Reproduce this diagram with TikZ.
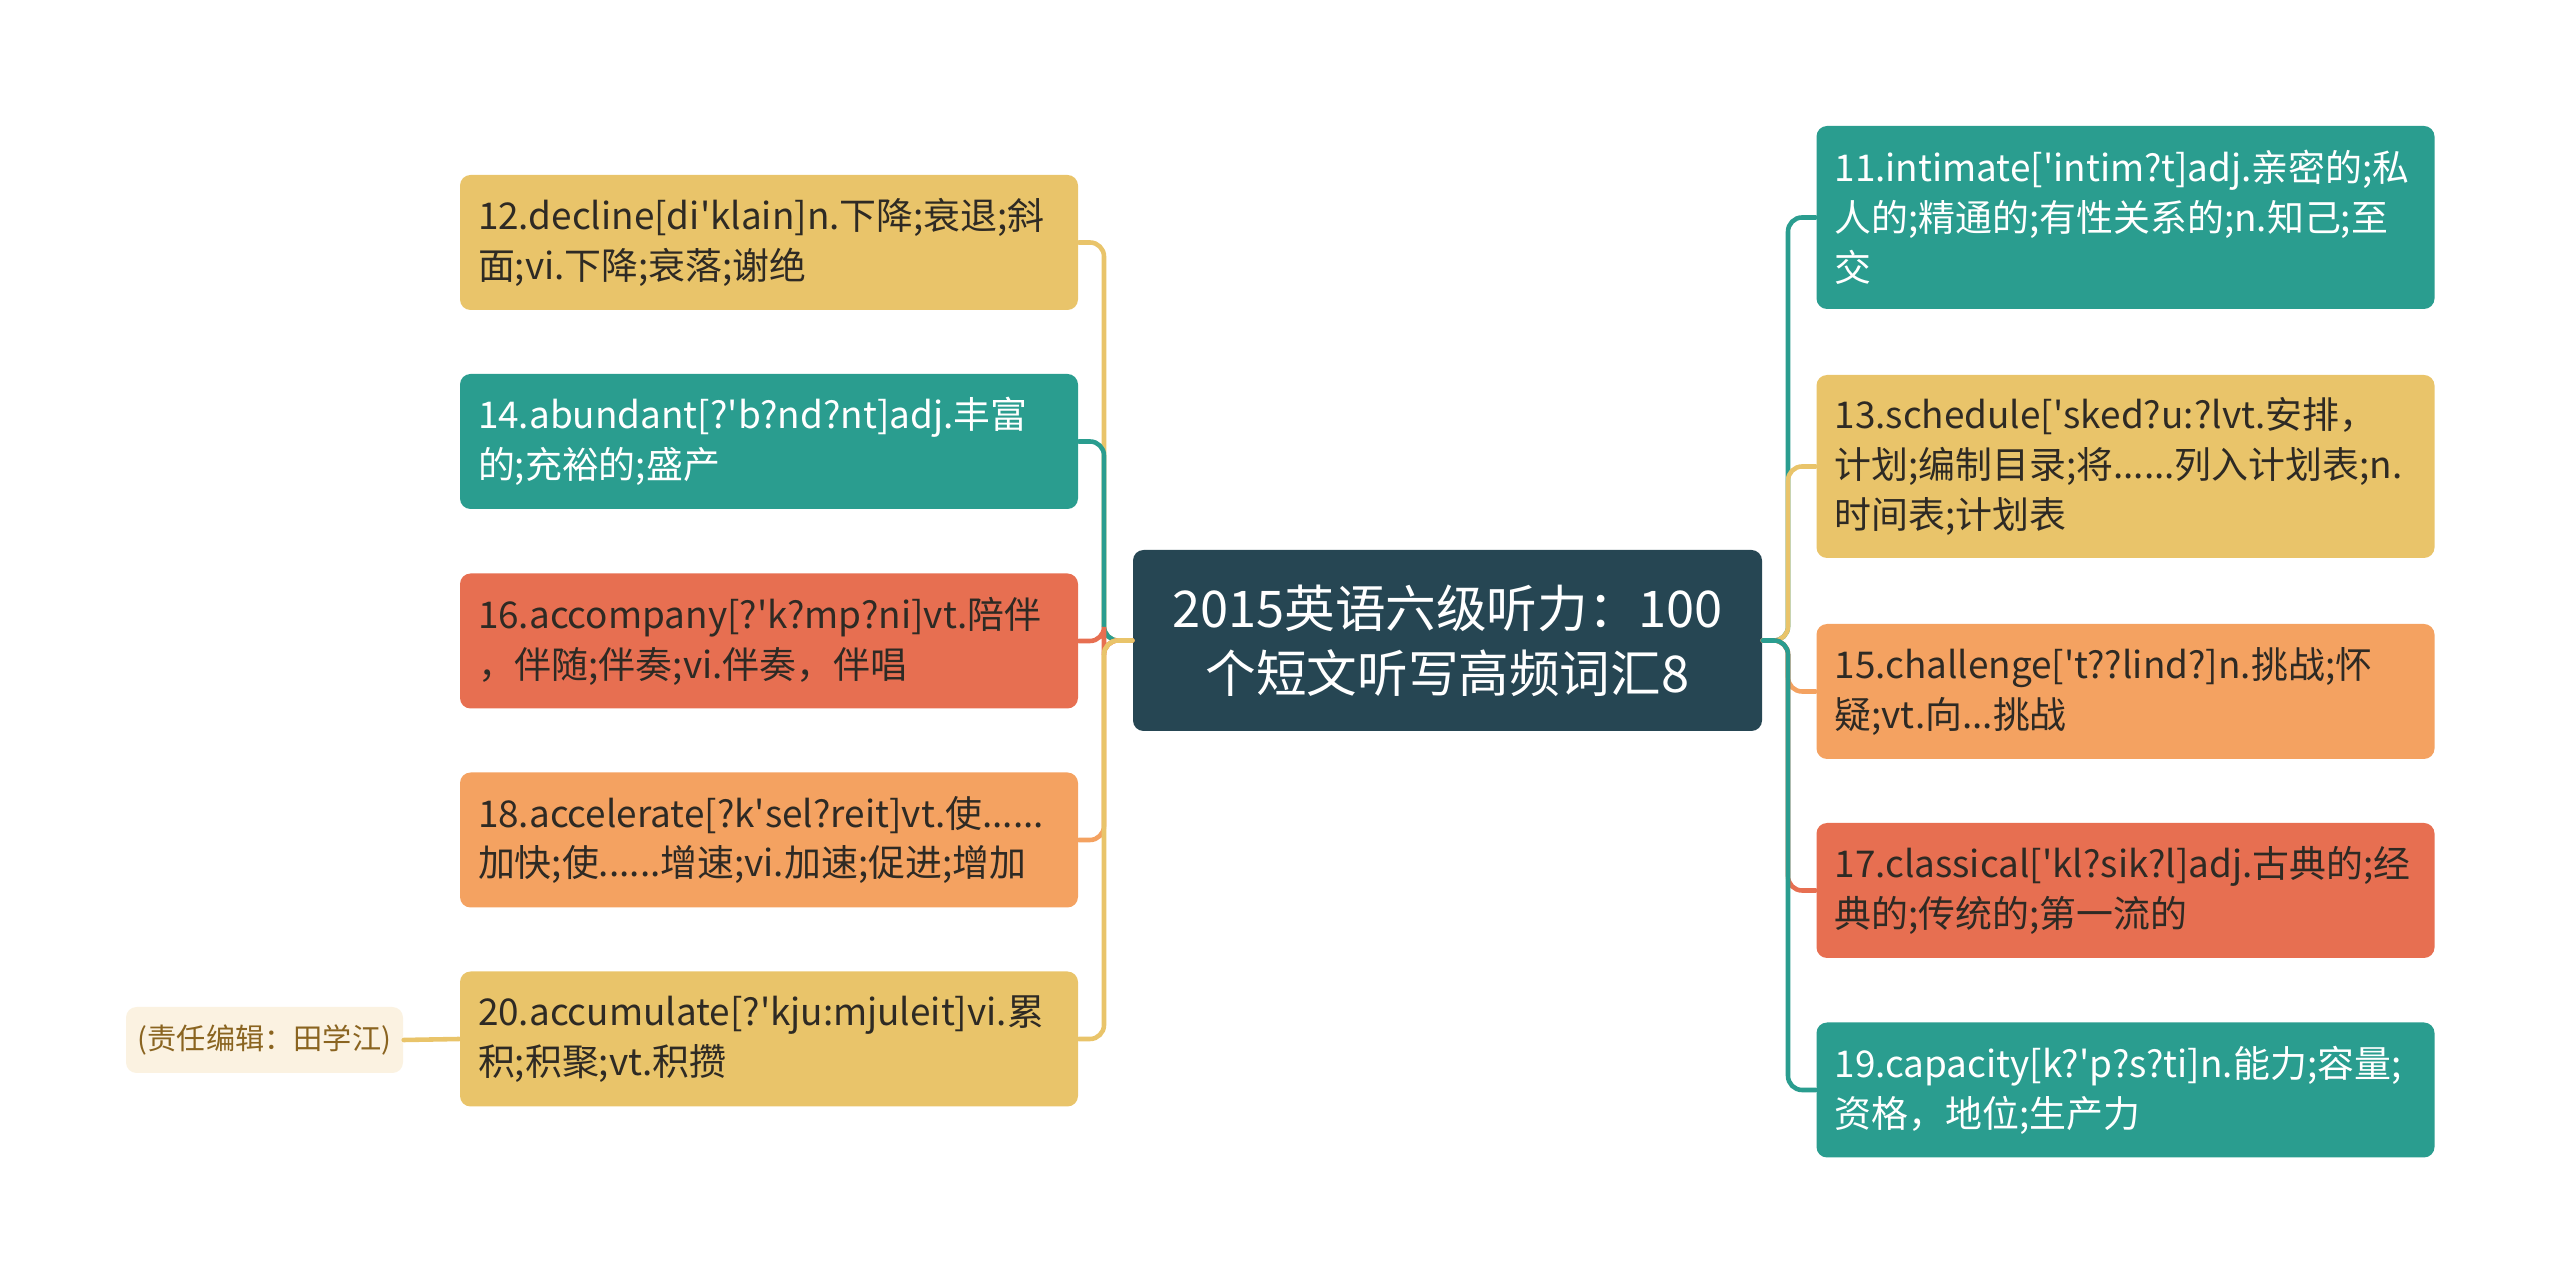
\documentclass[tikz,border=0pt]{standalone}
\usepackage{fontspec}
\setmainfont{Noto Sans CJK SC}
\usepackage{tikz}
\usepackage{xcolor}
\definecolor{mapyellow}{HTML}{E9C46A}
\definecolor{mapteal}{HTML}{2A9D8F}
\definecolor{mapred}{HTML}{E76F51}
\definecolor{maporange}{HTML}{F4A261}
\definecolor{mapdark}{HTML}{264653}
\definecolor{mapcream}{HTML}{FBF2E1}
\definecolor{mapbrown}{HTML}{8A6420}
\definecolor{maptext}{HTML}{2E2A24}
\newcommand{\sq}{\textquotesingle}

\begin{document}
\begin{tikzpicture}[line cap=round,
  leaf/.style={rounded corners=3pt,text width=5.82cm,align=left,inner xsep=0.18cm,inner ysep=0pt,
    minimum height=1.35cm,font=\fontsize{10.5}{14.2}\selectfont},
  tall/.style={minimum height=1.83cm},
  edge/.style={line width=1.3pt,rounded corners=4pt}]
\useasboundingbox (0,0) rectangle (25.6,-12.83);
\coordinate (ltrunk) at (11.04,0);
\coordinate (rtrunk) at (17.88,0);
\node[fill=mapdark,text=white,rounded corners=3pt,minimum width=6.29cm,minimum height=1.81cm,
  align=center,font=\fontsize{14.4}{18.5}\selectfont] (hub) at (14.475,-6.405)
  {2015英语六级听力：100\\个短文听写高频词汇8};
% left side
\node[leaf,fill=mapyellow,text=maptext] (w12) at (7.69,-2.425) {12.decline[di\sq klain]n.下降;衰退;斜\\面;vi.下降;衰落;谢绝};
\node[leaf,fill=mapteal,text=white] (w14) at (7.69,-4.415) {14.abundant[?\sq b?nd?nt]adj.丰富\\的;充裕的;盛产};
\node[leaf,fill=mapred,text=maptext] (w16) at (7.69,-6.41) {16.accompany[?\sq k?mp?ni]vt.陪伴\\，伴随;伴奏;vi.伴奏，伴唱};
\node[leaf,fill=maporange,text=maptext] (w18) at (7.69,-8.40) {18.accelerate[?k\sq sel?reit]vt.使......\\加快;使......增速;vi.加速;促进;增加};
\node[leaf,fill=mapyellow,text=maptext] (w20) at (7.69,-10.39) {20.accumulate[?\sq kju:mjuleit]vi.累\\积;积聚;vt.积攒};
\node[fill=mapcream,text=mapbrown,rounded corners=3pt,minimum width=2.77cm,minimum height=0.66cm,
  inner sep=0pt,font=\fontsize{8.3}{10}\selectfont] (editor) at (2.645,-10.40) {(责任编辑：田学江)};
% right side
\node[leaf,tall,fill=mapteal,text=white] (w11) at (21.255,-2.175) {11.intimate[\sq intim?t]adj.亲密的;私\\人的;精通的;有性关系的;n.知己;至\\交};
\node[leaf,tall,fill=mapyellow,text=maptext] (w13) at (21.255,-4.665) {13.schedule[\sq sked?u:?lvt.安排，\\计划;编制目录;将......列入计划表;n.\\时间表;计划表};
\node[leaf,fill=maporange,text=maptext] (w15) at (21.255,-6.915) {15.challenge[\sq t??lind?]n.挑战;怀\\疑;vt.向...挑战};
\node[leaf,fill=mapred,text=maptext] (w17) at (21.255,-8.905) {17.classical[\sq kl?sik?l]adj.古典的;经\\典的;传统的;第一流的};
\node[leaf,fill=mapteal,text=white] (w19) at (21.255,-10.90) {19.capacity[k?\sq p?s?ti]n.能力;容量;\\资格，地位;生产力};
% connectors
\draw[edge,mapyellow] (hub.west) -- (hub.west -| ltrunk) |- (w12.east);
\draw[edge,mapteal] (hub.west) -- (hub.west -| ltrunk) |- (w14.east);
\draw[edge,mapred] (hub.west) -- (hub.west -| ltrunk) |- (w16.east);
\draw[edge,maporange] (hub.west) -- (hub.west -| ltrunk) |- (w18.east);
\draw[edge,mapyellow] (hub.west) -- (hub.west -| ltrunk) |- (w20.east);
\draw[edge,mapyellow] (editor.east) -- (w20.west);
\draw[edge,mapteal] (hub.east) -- (hub.east -| rtrunk) |- (w11.west);
\draw[edge,mapyellow] (hub.east) -- (hub.east -| rtrunk) |- (w13.west);
\draw[edge,maporange] (hub.east) -- (hub.east -| rtrunk) |- (w15.west);
\draw[edge,mapred] (hub.east) -- (hub.east -| rtrunk) |- (w17.west);
\draw[edge,mapteal] (hub.east) -- (hub.east -| rtrunk) |- (w19.west);
\end{tikzpicture}
\end{document}
